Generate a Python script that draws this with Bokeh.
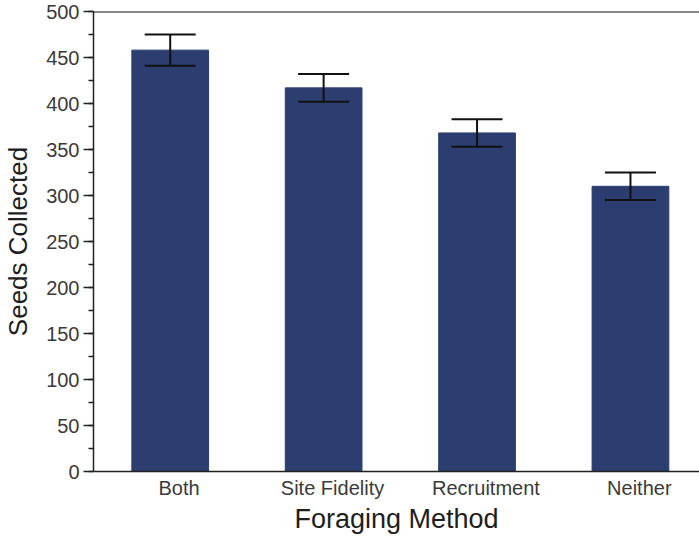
from bokeh.plotting import figure
from bokeh.models import (ColumnDataSource, Range1d, SingleIntervalTicker, FixedTicker,
                          Whisker, TeeHead, Span)
from bokeh.embed import file_html
from bokeh.resources import INLINE

# ---- data ----
methods = ["Both", "Site Fidelity", "Recruitment", "Neither"]
seeds = [458, 417, 368, 310]
sem = [17, 15, 15, 15]
x_title = "Foraging Method"
y_title = "Seeds Collected"

x_pos = [i + 0.5 for i in range(len(methods))]
label_shift = 0.058
src = ColumnDataSource(dict(
    x=x_pos, seeds=seeds,
    upper=[s + e for s, e in zip(seeds, sem)],
    lower=[s - e for s, e in zip(seeds, sem)],
))

FONT = "Liberation Sans"
BAR = "#2c3d6f"
INK = "#111111"

p = figure(width=699, height=536, output_backend="svg", toolbar_location=None,
           x_range=Range1d(0, 3.95), y_range=Range1d(0, 500),
           min_border_left=93, min_border_right=0, min_border_top=11, min_border_bottom=65)
p.outline_line_color = None
p.background_fill_color = "white"
p.border_fill_color = "white"
p.grid.visible = False

p.vbar(x="x", top="seeds", width=0.5, source=src, fill_color=BAR, line_color=BAR)

w = Whisker(base="x", upper="upper", lower="lower", source=src, level="overlay",
            line_color=INK, line_width=2,
            upper_head=TeeHead(size=51, line_color=INK, line_width=2),
            lower_head=TeeHead(size=51, line_color=INK, line_width=2))
p.add_layout(w)

p.add_layout(Span(location=500, dimension="width", line_color=INK, line_width=2))

# y axis
p.yaxis.ticker = SingleIntervalTicker(interval=50, num_minor_ticks=2)
p.yaxis.axis_label = y_title
p.yaxis.axis_label_text_font = FONT
p.yaxis.axis_label_text_font_size = "26px"
p.yaxis.axis_label_text_font_style = "normal"
p.yaxis.axis_label_text_color = "#1e1e1e"
p.yaxis.axis_label_standoff = 10
p.yaxis.major_label_text_font = FONT
p.yaxis.major_label_text_font_size = "20px"
p.yaxis.major_label_text_color = "#3a3a3a"
p.yaxis.major_label_standoff = 4
p.yaxis.major_tick_out = 10
p.yaxis.major_tick_in = 0
p.yaxis.minor_tick_out = 5
p.yaxis.minor_tick_in = 0
p.yaxis.axis_line_width = 1.5
p.yaxis.major_tick_line_width = 1.5
p.yaxis.minor_tick_line_width = 1.5
p.yaxis.axis_line_color = "#222222"
p.yaxis.major_tick_line_color = "#222222"
p.yaxis.minor_tick_line_color = "#222222"

# x axis
p.xaxis.ticker = FixedTicker(ticks=[x + label_shift for x in x_pos])
p.xaxis.major_label_overrides = {x + label_shift: m for x, m in zip(x_pos, methods)}
p.xaxis.axis_label = x_title
p.xaxis.axis_label_text_font = FONT
p.xaxis.axis_label_text_font_size = "27px"
p.xaxis.axis_label_text_font_style = "normal"
p.xaxis.axis_label_text_color = "#1e1e1e"
p.xaxis.axis_label_standoff = 2
p.xaxis.major_label_text_font = FONT
p.xaxis.major_label_text_font_size = "20px"
p.xaxis.major_label_text_color = "#3a3a3a"
p.xaxis.major_label_standoff = 5
p.xaxis.major_tick_line_color = None
p.xaxis.minor_tick_line_color = None
p.xaxis.major_tick_out = 0
p.xaxis.axis_line_width = 1.5
p.xaxis.axis_line_color = "#222222"

open("out.html", "w").write(file_html(p, INLINE))
